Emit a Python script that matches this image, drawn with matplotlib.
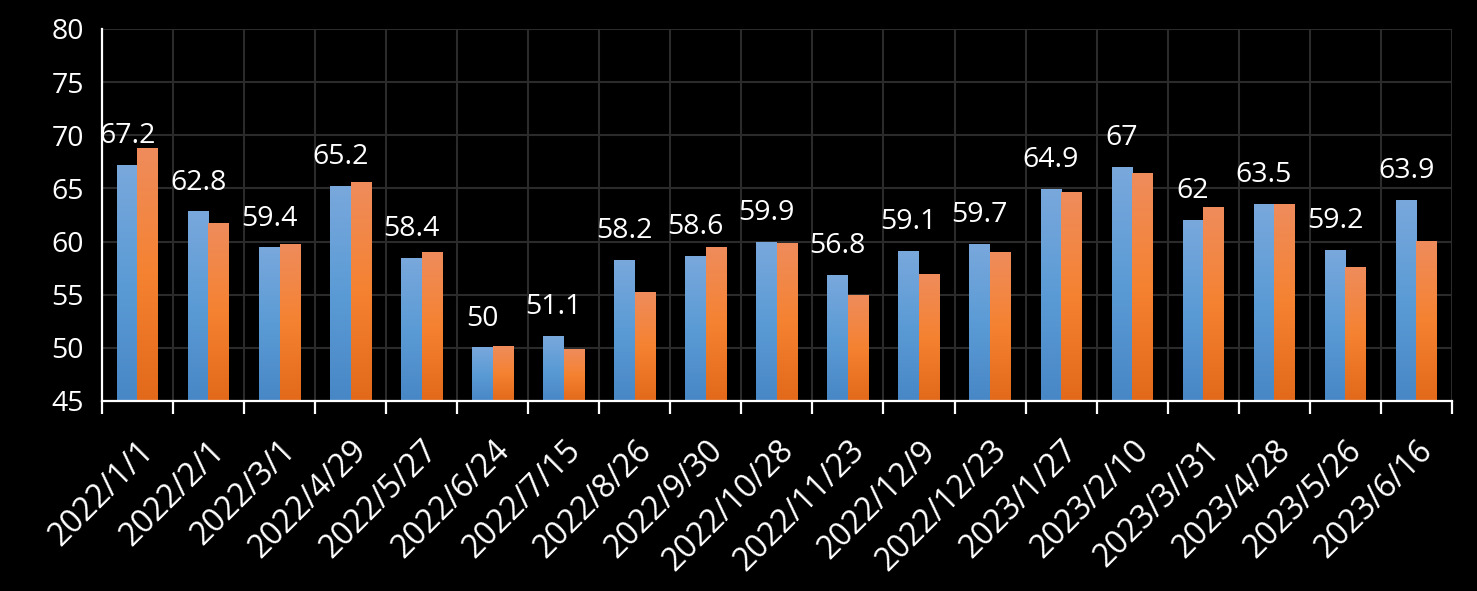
import numpy as np
import matplotlib.pyplot as plt
from matplotlib.colors import LinearSegmentedColormap

# data
dates = ["2022/1/1", "2022/2/1", "2022/3/1", "2022/4/29", "2022/5/27", "2022/6/24",
         "2022/7/15", "2022/8/26", "2022/9/30", "2022/10/28", "2022/11/23", "2022/12/9",
         "2022/12/23", "2023/1/27", "2023/2/10", "2023/3//31", "2023/4/28", "2023/5/26",
         "2023/6/16"]
blue_vals = [67.2, 62.8, 59.4, 65.2, 58.4, 50, 51.1, 58.2, 58.6, 59.9, 56.8, 59.1,
             59.7, 64.9, 67, 62, 63.5, 59.2, 63.9]
orange_vals = [68.8, 61.7, 59.7, 65.6, 59.0, 50.1, 49.8, 55.2, 59.4, 59.8, 54.9, 56.9,
               59.0, 64.6, 66.4, 63.2, 63.5, 57.6, 60.0]

plt.rcParams['font.family'] = ['Open Sans', 'DejaVu Sans']

fig = plt.figure(figsize=(14.77, 5.91), dpi=100, facecolor='black')
ax = fig.add_axes([0.069, 0.3215, 0.914, 0.6295], facecolor='black')

ymin, ymax = 45, 80
x = np.arange(len(dates))
w = 0.29

blue_cmap = LinearSegmentedColormap.from_list("b", ["#4887c6", "#5b9bd5", "#79a8dc"])
orange_cmap = LinearSegmentedColormap.from_list("o", ["#e2691a", "#f58231", "#ef8c5c"])
grad = np.linspace(0, 1, 256).reshape(-1, 1)


def grad_bars(xs, vals, cmap):
    bars = ax.bar(xs, np.array(vals) - ymin, w, bottom=ymin, color='none', zorder=2)
    for b in bars:
        x0, y0 = b.get_x(), b.get_y()
        ax.imshow(grad, cmap=cmap, origin='lower', aspect='auto', zorder=2,
                  extent=(x0, x0 + b.get_width(), y0, y0 + b.get_height()))
    return bars


grad_bars(x - w / 2, blue_vals, blue_cmap)
grad_bars(x + w / 2, orange_vals, orange_cmap)

for xi, v in zip(x, blue_vals):
    ax.annotate(f"{v:g}", (xi - w / 2, v), xytext=(0, 11), textcoords='offset points',
                ha='center', va='bottom', color='white', fontsize=20.5)

ax.set_xlim(-0.5, len(dates) - 0.5)
ax.set_ylim(ymin, ymax)
ax.set_yticks(range(45, 81, 5))

# category boundaries: ticks and vertical grid
ax.set_xticks(np.arange(-0.5, len(dates), 1))
ax.set_xticklabels([])
ax.set_xticks(x, minor=True)
ax.set_xticklabels(dates, minor=True, rotation=45, ha='right', va='top',
                   rotation_mode='anchor', color='white', fontsize=23)
ax.tick_params(axis='x', which='major', length=9, width=1.6, color='white', direction='out')
ax.tick_params(axis='x', which='minor', length=0, pad=24)
ax.tick_params(axis='y', length=0, pad=13, labelcolor='white', labelsize=20.5)

ax.grid(True, which='major', color='#2b2b2b', linewidth=1.5, zorder=0)
ax.set_axisbelow(True)

for s in ['top', 'right']:
    ax.spines[s].set_visible(False)
for s in ['left', 'bottom']:
    ax.spines[s].set_color('white')
    ax.spines[s].set_linewidth(1.6)
    ax.spines[s].set_zorder(3)

fig.savefig("out.png", dpi=100, facecolor='black')
